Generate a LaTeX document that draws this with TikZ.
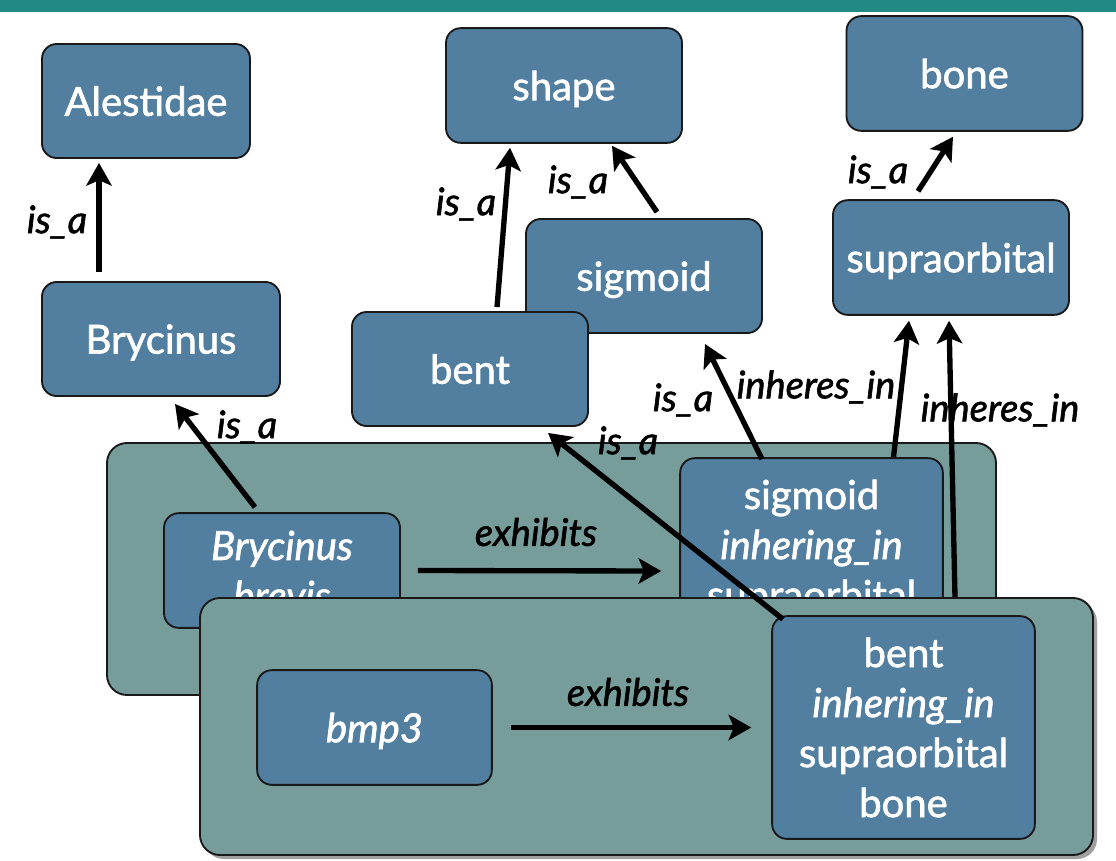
\documentclass[tikz,border=0pt]{standalone}
\usepackage{fontspec}
\setmainfont{Lato}
\newfontfamily\heavyfont[RawFeature={embolden=1.6}]{Lato}
\usetikzlibrary{arrows.meta,calc,shadows}
\definecolor{nodeblue}{HTML}{527FA0}
\definecolor{panelgreen}{HTML}{779D9B}
\definecolor{band}{HTML}{228985}
\tikzset{
  box/.style={draw=black!90, line width=1.4pt, fill=nodeblue, rounded corners=11pt,
    text=white, align=center, inner sep=0pt,
    font=\heavyfont\fontsize{30}{37.5}\selectfont},
  oneline/.style={text depth=0pt},
  panelbox/.style={draw=black!90, line width=1.4pt, fill=panelgreen, rounded corners=15pt},
  lbl/.style={font=\heavyfont\fontsize{28.5}{32}\selectfont\itshape, text=black, inner sep=0pt},
  arr/.style={line width=4pt, -{Stealth[length=17pt,width=19pt,inset=4pt]}}
}
\begin{document}
\begin{tikzpicture}[x=0.75pt,y=-0.75pt]
\useasboundingbox (0,0) rectangle (1116,860);
\fill[band] (0,0) rectangle (1116,12);

% upper ontology nodes
\node[box, oneline, minimum width=156pt, minimum height=85.5pt] (alestidae) at (146,101) {Alestidae};
\node[box, oneline, minimum width=178.5pt, minimum height=85.5pt] (brycinus) at (161,339) {Brycinus};
\node[box, oneline, minimum width=177pt, minimum height=86pt] (shape) at (564,85.5) {shape};
\node[box, oneline, minimum width=177pt, minimum height=86pt] (bone) at (964.5,73.5) {bone};
\node[box, oneline, minimum width=177pt, minimum height=85.5pt] (sigmoid) at (644,276) {sigmoid};
\node[box, oneline, minimum width=177pt, minimum height=86pt] (supra) at (951,257.5) {supraorbital};
\node[box, oneline, minimum width=177pt, minimum height=85.5pt] (bent) at (470,369) {bent};

% back panel
\draw[panelbox] (107,443) rectangle (996,695);
\node[box, minimum width=177pt, minimum height=86pt] (brevis) at (282,570.5) {\itshape Brycinus\\\itshape brevis};
\node[box, minimum width=197pt, minimum height=167pt] (sigmoidinh) at (811.5,569.5)
  {sigmoid\\\textit{inhering\_in}\\supraorbital\\bone};

% labels
\node[lbl] (l1) at (57,222) {is\_a};
\node[lbl] (l2) at (247,427) {is\_a};
\node[lbl] (l3) at (466,204) {is\_a};
\node[lbl] (l4) at (578,182) {is\_a};
\node[lbl] (l5) at (878,172) {is\_a};
\node[lbl] (l6) at (683,400) {is\_a};
\node[lbl] (l7) at (816,387) {inheres\_in};
\node[lbl] (l8) at (1000,410) {inheres\_in};
\node[lbl] (l9) at (628,443) {is\_a};
\node[lbl] (l10) at (536,532) {exhibits};

% connectors of upper part
\draw[arr] ($(brycinus.north)+(-62,-9)$) -- ($(alestidae.south)+(-47,4)$);
\draw[arr] ($(brevis.north)+(-27,-5)$) -- ($(brycinus.south)+(14,7)$);
\draw[arr] ($(bent.north)+(27,-4)$) -- ($(shape.south)+(-54,4)$);
\draw[arr] ($(sigmoid.north)+(13,-6)$) -- ($(shape.south)+(48,2)$);
\draw[arr] ($(supra.north)+(-33,-8)$) -- ($(bone.south)+(-11.5,5)$);
\draw[arr] ($(sigmoidinh.north)+(-49.5,2)$) -- ($(sigmoid.south)+(61,10)$);
\draw[arr] ($(sigmoidinh.north)+(82,0)$) -- ($(supra.south)+(-42,5)$);
\draw[arr] ($(brevis.east)+(17,0)$) -- ($(sigmoidinh.west)+(-18,1.5)$);

% front panel
\draw[panelbox, drop shadow={opacity=0.75, shadow xshift=3pt, shadow yshift=-3pt}] (200,598) rectangle (1093,855);
\node[box, oneline, minimum width=176pt, minimum height=86pt] (bmp) at (374.5,727.5) {\itshape bmp3};
\node[box, minimum width=197pt, minimum height=167pt] (bentinh) at (903.5,727.5)
  {bent\\\textit{inhering\_in}\\supraorbital\\bone};

\draw[arr] ($(bentinh.north)+(51.5,-18)$) -- ($(supra.south)+(-2,5)$);
\draw[arr] ($(bentinh.north)+(-120.5,4)$) -- ($(bent.south)+(78,6)$);
\node[lbl] (l11) at (628,692) {exhibits};
\draw[arr] ($(bmp.east)+(18,0)$) -- ($(bentinh.west)+(-20,0)$);
\end{tikzpicture}
\end{document}
